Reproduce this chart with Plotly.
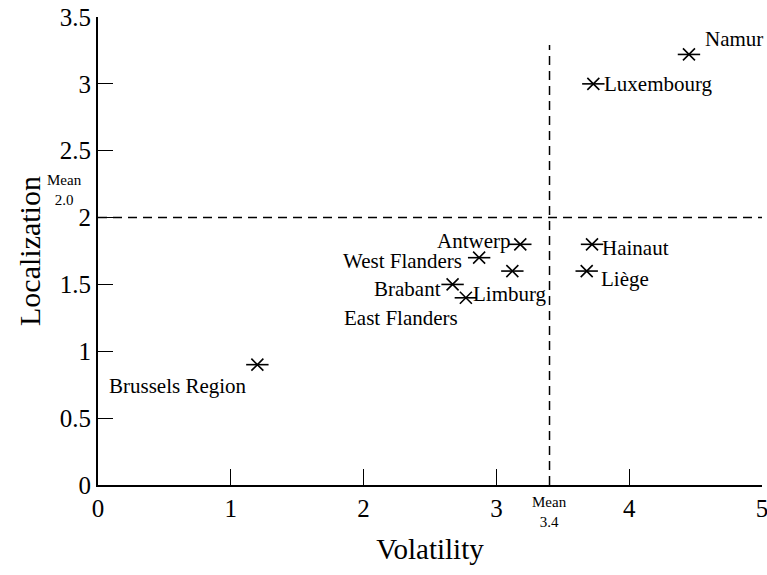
import plotly.graph_objects as go

# Province / region positions on the volatility-localization plane
regions = ["Namur", "Luxembourg", "Hainaut", "Liège", "Antwerp",
           "West Flanders", "Limburg", "Brabant", "East Flanders", "Brussels Region"]
volatility = [4.45, 3.73, 3.72, 3.68, 3.18, 2.87, 3.12, 2.67, 2.77, 1.20]
localization = [3.22, 3.00, 1.80, 1.60, 1.80, 1.70, 1.60, 1.50, 1.40, 0.90]

mean_volatility = 3.4
mean_localization = 2.0

x_ticks = [0, 1, 2, 3, 4, 5]
y_ticks = [0, 0.5, 1, 1.5, 2, 2.5, 3, 3.5]

# label placement: (anchor, x shift px, y shift px)
label_pos = {
    "Namur": ("left", 14, 15),
    "Luxembourg": ("left", 9, 0),
    "Hainaut": ("left", 8, -4),
    "Liège": ("left", 12, -8),
    "Antwerp": ("right", -8, 3),
    "West Flanders": ("right", -15, -3),
    "Limburg": ("center", -2, -23),
    "Brabant": ("right", -10, -5),
    "East Flanders": ("right", -6, -20),
    "Brussels Region": ("right", -8, -21),
}

FONT = "Liberation Serif"

fig = go.Figure()

# mean reference lines
fig.add_trace(go.Scatter(
    x=[0, 5], y=[mean_localization, mean_localization], mode="lines",
    line=dict(color="black", width=1.5, dash="9px,6px"),
    hoverinfo="skip", showlegend=False))
fig.add_trace(go.Scatter(
    x=[mean_volatility, mean_volatility], y=[0, 3.29], mode="lines",
    line=dict(color="black", width=1.5, dash="9px,6px"),
    hoverinfo="skip", showlegend=False))

# six-armed star markers: diagonal cross plus horizontal bar
for sym, sz in [("x-thin-open", 12), ("line-ew-open", 16)]:
    fig.add_trace(go.Scatter(
        x=volatility, y=localization, mode="markers",
        marker=dict(symbol=sym, size=sz,
                    color="black", line=dict(color="black", width=1.6)),
        text=regions, hoverinfo="text", showlegend=False))

for name, vx, vy in zip(regions, volatility, localization):
    anchor, dx, dy = label_pos[name]
    fig.add_annotation(x=vx, y=vy, text=name, showarrow=False,
                       xanchor=anchor, yanchor="middle", xshift=dx, yshift=dy,
                       font=dict(family=FONT, size=21, color="black"))

# mean labels
fig.add_annotation(x=mean_volatility, y=0, yref="y", text="Mean<br>3.4", showarrow=False,
                   xanchor="center", yanchor="top", yshift=-7,
                   font=dict(family=FONT, size=15, color="black"))
fig.add_annotation(x=0, y=mean_localization, xref="x", text="Mean<br>2.0", showarrow=False,
                   xanchor="right", yanchor="bottom", xshift=-14, yshift=8,
                   font=dict(family=FONT, size=15, color="black"),
                   align="center")

fig.update_layout(
    width=767, height=575,
    margin=dict(l=98, r=5, t=17, b=90),
    paper_bgcolor="white", plot_bgcolor="white",
    font=dict(family=FONT, color="black"),
    xaxis=dict(range=[0, 5], tickvals=x_ticks, ticktext=[str(v) for v in x_ticks],
               showgrid=False, zeroline=False, showline=True, linecolor="black",
               linewidth=2, ticks="inside", ticklen=16, tickwidth=1.2,
               tickcolor="black", tickfont=dict(size=25, family=FONT, color="black"),
               ticklabeloverflow="allow", automargin=False,
               title=dict(text="Volatility", font=dict(size=29, family=FONT, color="black"),
                          standoff=18)),
    yaxis=dict(range=[0, 3.5], tickvals=y_ticks,
               ticktext=["0", "0.5", "1", "1.5", "2", "2.5", "3", "3.5"],
               showgrid=False, zeroline=False, showline=True, linecolor="black",
               linewidth=2, ticks="inside", ticklen=15, tickwidth=1.2,
               tickcolor="black", tickfont=dict(size=25, family=FONT, color="black"),
               ticklabeloverflow="allow", automargin=False,
               title=dict(text="Localization", font=dict(size=30, family=FONT, color="black"),
                          standoff=10)),
)

fig.write_html("out.html")
